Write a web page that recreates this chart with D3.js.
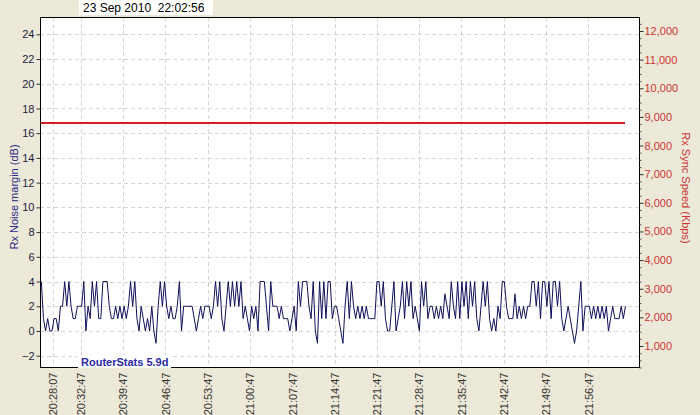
<!DOCTYPE html>
<html>
<head>
<meta charset="utf-8">
<script src="https://cdn.jsdelivr.net/npm/d3@7"></script>
<style>
  html, body { margin: 0; padding: 0; background: #ece9d8; }
  svg { display: block; font-family: "Liberation Sans", Arial, sans-serif; }
</style>
</head>
<body>
<svg id="chart" width="700" height="415"></svg>
<script>
// ---------- DATA ----------
const chartTitle = "23 Sep 2010  22:02:56";
const watermark = "RouterStats 5.9d";
const leftTitle = "Rx Noise margin (dB)";
const rightTitle = "Rx Sync Speed (Kbps)";
const chartDate = "2010-09-23";
const dataStart = "20:26:16";
const dataEnd = "22:02:56";
const xTickLabels = ["20:28:07","20:32:47","20:39:47","20:46:47","20:53:47","21:00:47","21:07:47",
  "21:14:47","21:21:47","21:28:47","21:35:47","21:42:47","21:49:47","21:56:47"];
const leftTicks = [-2,0,2,4,6,8,10,12,14,16,18,20,22,24];
const rightTicks = [1000,2000,3000,4000,5000,6000,7000,8000,9000,10000,11000,12000];
const noiseMargin = [
  4,1,0,1,0,0,1,1,0,2,2,4,2,4,2,1,1,2,2,2,4,0,2,1,4,2,4,1,1,4,4,4,2,1,1,2,1,2,1,2,1,2,4,2,4,1,0,2,1,0,1,0,2,0,-1,2,4,2,4,2,1,2,1,1,2,4,0,2,2,
  2,2,2,1,0,1,2,1,2,2,2,1,2,4,2,4,1,0,2,4,2,4,2,4,2,4,1,2,1,0,2,1,2,0,4,4,4,2,0,4,2,2,2,1,2,1,1,1,0,1,2,0,4,2,4,4,4,2,1,4,0,-1,4,1,4,1,4,
  4,1,2,2,1,0,-1,2,4,1,4,2,1,2,1,2,1,2,1,1,1,1,4,4,2,4,1,0,0,2,4,0,1,2,4,1,4,2,4,1,2,1,0,4,2,4,1,2,2,1,2,1,2,1,3,2,1,4,2,1,4,1,4,2,4,1,4,2,4,1,0,2,
  4,2,4,1,0,1,0,2,1,4,4,2,1,1,1,3,1,2,1,2,1,2,2,4,4,2,4,1,4,4,2,4,1,4,4,2,4,1,0,1,2,1,0,-1,0,2,4,0,2,2,2,1,2,1,2,1,2,1,2,0,1,2,1,1,1,2,1,2
];
const syncTimes = ["20:26:16", "22:02:56"];
const syncSpeed = [8800, 8800];

// ---------- LAYOUT ----------
const svg = d3.select("#chart");
const plot = { left: 40, right: 639, top: 17, bottom: 367 };
const parse = d3.utcParse("%Y-%m-%d %H:%M:%S");
const t = s => parse(chartDate + " " + s);

const x = d3.scaleUtc()
  .domain([t("20:32:47"), t("21:56:47")])
  .range([80.7, 588.3]);
const yL = d3.scaleLinear().domain([-2, 24]).range([355.7, 34.3]);
const yR = d3.scaleLinear().domain([1000, 12000]).range([346, 31]);

// plot background
svg.append("rect")
  .attr("x", plot.left).attr("y", plot.top)
  .attr("width", plot.right - plot.left).attr("height", plot.bottom - plot.top)
  .attr("fill", "#ffffff");

// grid
const grid = svg.append("g").attr("stroke", "#d4d4d4").attr("stroke-dasharray", "4,3").attr("stroke-width", 1);
leftTicks.forEach(v => {
  const yy = Math.round(yL(v)) + 0.5;
  grid.append("line").attr("x1", plot.left).attr("x2", plot.right).attr("y1", yy).attr("y2", yy);
});
const xTickTimes = xTickLabels.map(t);
xTickTimes.forEach(d => {
  const xx = Math.round(x(d)) + 0.5;
  grid.append("line").attr("x1", xx).attr("x2", xx).attr("y1", plot.top).attr("y2", plot.bottom);
});

// series
const start = t(dataStart), end = t(dataEnd);
const step = (end - start) / (noiseMargin.length - 1);
const pts = noiseMargin.map((v, i) => ({ time: new Date(+start + i * step), v }));
svg.append("path")
  .datum(pts)
  .attr("fill", "none")
  .attr("stroke", "#10105a")
  .attr("stroke-width", 1)
  .attr("d", d3.line().x(d => x(d.time)).y(d => yL(d.v)));

const syncPts = syncTimes.map((s, i) => ({ time: t(s), v: syncSpeed[i] }));
svg.append("path")
  .datum(syncPts)
  .attr("fill", "none")
  .attr("stroke", "#d42020")
  .attr("stroke-width", 2)
  .attr("shape-rendering", "crispEdges")
  .attr("d", d3.line().x(d => x(d.time)).y(d => Math.round(yR(d.v))));

// border
svg.append("rect")
  .attr("x", plot.left + 0.5).attr("y", plot.top + 0.5)
  .attr("width", plot.right - plot.left).attr("height", plot.bottom - plot.top)
  .attr("fill", "none").attr("stroke", "#000").attr("stroke-width", 1);

// left axis
const axL = svg.append("g").attr("transform", `translate(${plot.left + 0.5},0)`)
  .call(d3.axisLeft(yL).tickValues(leftTicks).tickSize(4).tickPadding(2).tickSizeOuter(0));
axL.select(".domain").remove();
axL.selectAll("line").attr("stroke", "#333");
axL.selectAll("text").attr("fill", "#1c1c40").attr("font-size", 11).attr("font-family", "Liberation Sans, Arial, sans-serif");

// right axis with minor ticks
const minor = d3.range(250, 12500, 250).filter(v => v % 1000 !== 0);
const axRm = svg.append("g").attr("transform", `translate(${plot.right + 0.5},0)`)
  .call(d3.axisRight(yR).tickValues(minor).tickSize(2).tickFormat(""));
axRm.select(".domain").remove();
axRm.selectAll("line").attr("stroke", "#555");
const axR = svg.append("g").attr("transform", `translate(${plot.right + 0.5},0)`)
  .call(d3.axisRight(yR).tickValues(rightTicks).tickSize(4).tickPadding(1).tickFormat(d3.format(",")));
axR.select(".domain").remove();
axR.selectAll("line").attr("stroke", "#333");
axR.selectAll("text").attr("fill", "#cc3333").attr("font-size", 11).attr("font-family", "Liberation Sans, Arial, sans-serif");

// x axis labels
const axX = svg.append("g").attr("transform", `translate(0,${plot.bottom + 0.5})`)
  .call(d3.axisBottom(x).tickValues(xTickTimes).tickSize(0).tickFormat(d3.utcFormat("%H:%M:%S")));
axX.select(".domain").remove();
axX.selectAll("text")
  .attr("fill", "#333")
  .attr("font-size", 11)
  .attr("font-family", "Liberation Sans, Arial, sans-serif")
  .attr("text-anchor", "end")
  .attr("transform", "rotate(-90)")
  .attr("x", -5).attr("y", 0).attr("dy", "0.35em");

// axis titles
svg.append("text")
  .attr("transform", "translate(18,197) rotate(-90)")
  .attr("text-anchor", "middle")
  .attr("font-size", 11).attr("fill", "#2a2a8a")
  .text(leftTitle);
svg.append("text")
  .attr("transform", "translate(682,188) rotate(90)")
  .attr("text-anchor", "middle")
  .attr("font-size", 11).attr("fill", "#cc3333")
  .text(rightTitle);

// title box
svg.append("rect").attr("x", 79).attr("y", 0).attr("width", 134).attr("height", 15).attr("fill", "#fff");
svg.append("text").attr("x", 83).attr("y", 12).attr("font-size", 12).attr("fill", "#000")
  .style("white-space", "pre").text(chartTitle);

// watermark
svg.append("rect").attr("x", 78).attr("y", 355).attr("width", 93).attr("height", 13).attr("fill", "#fff");
svg.append("text").attr("x", 81).attr("y", 366).attr("font-size", 11).attr("font-weight", "bold")
  .attr("fill", "#2a2aa8").text(watermark);
</script>
</body>
</html>
